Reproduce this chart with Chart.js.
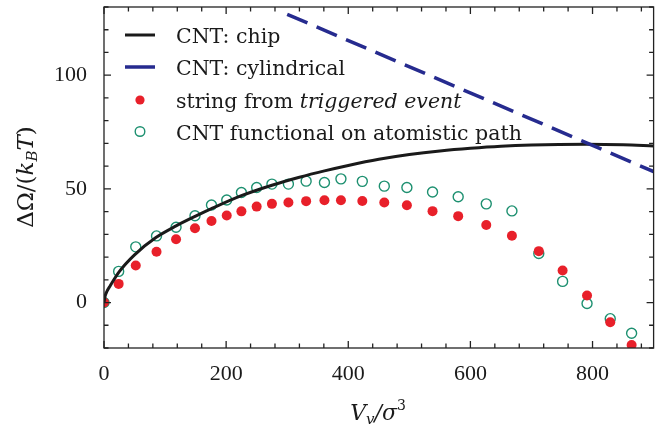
<!DOCTYPE html>
<html>
<head>
<meta charset="utf-8">
<script src="https://cdn.jsdelivr.net/npm/chart.js@4.4.1/dist/chart.umd.min.js"></script>
<style>
  html, body { margin: 0; padding: 0; background: #fff; }
  #c { display: block; }
</style>
</head>
<body>
<canvas id="c" width="660" height="426"></canvas>
<script>
// CNT: chip curve
const chipX = [0, 2, 5, 10, 25, 50, 85, 118, 150, 176, 225, 275, 320, 361, 400, 450, 500, 550, 600, 650, 700, 790, 850, 900];
const chipY = [0, 3, 5, 7.3, 13.6, 21.0, 28.6, 33.7, 38.0, 41.3, 47.0, 51.6, 55.1, 57.9, 60.3, 63.0, 65.1, 66.7, 67.9, 68.8, 69.3, 69.6, 69.4, 68.9];

// CNT: cylindrical (straight dashed line)
const cylX = [300, 900];
const cylY = [126.8, 57.6];

// shared volumes of the path points
const pathX = [0, 24, 52, 86, 118, 149, 176, 201, 225, 250, 275, 302, 331, 361, 388, 423, 459, 496, 538, 580, 626, 668, 712, 751, 791, 829, 864];
const stringY = [0, 8.2, 16.3, 22.3, 27.8, 32.7, 35.9, 38.3, 40.1, 42.2, 43.4, 44, 44.6, 45, 45, 44.7, 44, 42.8, 40.2, 38, 34.1, 29.4, 22.6, 14.1, 3.1, -8.7, -18.7];
const functionalY = [0, 13.7, 24.5, 29.3, 33.1, 38.2, 42.9, 45.1, 48.4, 50.6, 52.1, 52.1, 53.4, 52.8, 54.4, 53.3, 51.2, 50.6, 48.6, 46.5, 43.4, 40.3, 21.6, 9.3, -0.4, -7.1, -13.5];

const xTicks = [0, 200, 400, 600, 800];
const yTicks = [0, 50, 100];

const RED = "#e8202a";
const GREEN = "#1d9070";
const BLUE = "#262b8f";
const INK = "#1a1a1a";

const pts = (xs, ys) => xs.map((x, i) => ({ x: x, y: ys[i] }));

// frame with inward ticks on all four sides, axis titles and legend
const decor = {
  id: "decor",
  afterDraw(chart) {
    const ctx = chart.ctx;
    const a = chart.chartArea;
    const xs = chart.scales.x, ys = chart.scales.y;
    ctx.save();
    ctx.strokeStyle = "#222";
    ctx.lineWidth = 1.3;
    ctx.strokeRect(a.left, a.top, a.right - a.left, a.bottom - a.top);
    ctx.beginPath();
    for (let v = 0; v <= 900; v += 40) {
      const p = xs.getPixelForValue(v);
      const len = v % 200 === 0 ? 7 : 4.5;
      ctx.moveTo(p, a.bottom); ctx.lineTo(p, a.bottom - len);
      ctx.moveTo(p, a.top); ctx.lineTo(p, a.top + len);
    }
    for (let v = -20; v <= 130; v += 10) {
      const p = ys.getPixelForValue(v);
      const len = v % 50 === 0 ? 7 : 4.5;
      ctx.moveTo(a.left, p); ctx.lineTo(a.left + len, p);
      ctx.moveTo(a.right, p); ctx.lineTo(a.right - len, p);
    }
    ctx.stroke();

    // x title: V_v / sigma^3
    ctx.fillStyle = INK;
    ctx.textBaseline = "alphabetic";
    const xparts = [
      ["V", "italic 22px 'DejaVu Serif'", 0],
      ["v", "italic 15px 'DejaVu Serif'", 4],
      ["/σ", "italic 22px 'DejaVu Serif'", 0],
      ["3", "14px 'DejaVu Serif'", -10]
    ];
    drawParts(ctx, xparts, 378, 420);

    // y title: Delta Omega / (k_B T)
    ctx.save();
    ctx.translate(33, 177);
    ctx.rotate(-Math.PI / 2);
    const yparts = [
      ["ΔΩ/(", "23px 'DejaVu Serif'", 0],
      ["k", "italic 23px 'DejaVu Serif'", 0],
      ["B", "italic 15px 'DejaVu Serif'", 4],
      ["T", "italic 23px 'DejaVu Serif'", 0],
      [")", "23px 'DejaVu Serif'", 0]
    ];
    drawParts(ctx, yparts, 0, 0);
    ctx.restore();

    // legend
    const rows = [35, 67, 100, 131.5];
    ctx.lineWidth = 3;
    ctx.strokeStyle = INK;
    ctx.beginPath(); ctx.moveTo(125, rows[0]); ctx.lineTo(155, rows[0]); ctx.stroke();
    ctx.strokeStyle = BLUE;
    ctx.lineWidth = 3.5;
    ctx.beginPath(); ctx.moveTo(125, rows[1]); ctx.lineTo(155, rows[1]); ctx.stroke();
    ctx.fillStyle = RED;
    ctx.beginPath(); ctx.arc(140, rows[2], 4.6, 0, Math.PI * 2); ctx.fill();
    ctx.strokeStyle = GREEN;
    ctx.lineWidth = 1.4;
    ctx.beginPath(); ctx.arc(140, rows[3], 4.8, 0, Math.PI * 2); ctx.stroke();

    ctx.fillStyle = INK;
    const f = "20.5px 'DejaVu Serif'";
    const fi = "italic 20.5px 'DejaVu Serif'";
    const tx = 176;
    drawParts(ctx, [["CNT: chip", f, 0]], tx, rows[0] + 8, "left");
    drawParts(ctx, [["CNT: cylindrical", f, 0]], tx, rows[1] + 8, "left");
    drawParts(ctx, [["string from ", f, 0], ["triggered event", fi, 0]], tx, rows[2] + 8, "left");
    drawParts(ctx, [["CNT functional on atomistic path", f, 0]], tx, rows[3] + 8, "left");
    ctx.restore();
  }
};

function drawParts(ctx, parts, x, y, align) {
  let total = 0;
  parts.forEach(p => { ctx.font = p[1]; total += ctx.measureText(p[0]).width; });
  let cx = align === "left" ? x : x - total / 2;
  ctx.textAlign = "left";
  parts.forEach(p => {
    ctx.font = p[1];
    ctx.fillText(p[0], cx, y + p[2]);
    cx += ctx.measureText(p[0]).width;
  });
}

new Chart(document.getElementById("c"), {
  type: "scatter",
  data: {
    datasets: [
      {
        label: "CNT: cylindrical",
        type: "line",
        data: pts(cylX, cylY),
        borderColor: BLUE,
        borderWidth: 3.5,
        borderDash: [22, 10],
        pointRadius: 0,
        fill: false,
        order: 0
      },
      {
        label: "CNT: chip",
        type: "line",
        data: pts(chipX, chipY),
        borderColor: INK,
        borderWidth: 3,
        pointRadius: 0,
        cubicInterpolationMode: "monotone",
        fill: false,
        order: 1
      },
      {
        label: "string from triggered event",
        data: pts(pathX, stringY),
        backgroundColor: RED,
        borderWidth: 0,
        pointRadius: 5,
        order: 2
      },
      {
        label: "CNT functional on atomistic path",
        data: pts(pathX, functionalY),
        backgroundColor: "rgba(0,0,0,0)",
        borderColor: GREEN,
        borderWidth: 1.4,
        pointRadius: 5,
        order: 3
      }
    ]
  },
  options: {
    responsive: false,
    animation: false,
    devicePixelRatio: 1,
    layout: { padding: { top: 7, right: 4, left: 0, bottom: 0 } },
    plugins: {
      legend: { display: false },
      tooltip: { enabled: false }
    },
    scales: {
      x: {
        type: "linear",
        min: 0,
        max: 900,
        grid: { display: false, drawTicks: false },
        border: { display: false },
        afterBuildTicks: s => { s.ticks = xTicks.map(v => ({ value: v })); },
        afterFit: s => { s.height = 78; s.paddingLeft = 0; s.paddingRight = 0; },
        ticks: {
          padding: 13,
          color: INK,
          font: { family: "'Liberation Serif'", size: 22 }
        }
      },
      y: {
        type: "linear",
        min: -20,
        max: 130,
        grid: { display: false, drawTicks: false },
        border: { display: false },
        afterBuildTicks: s => { s.ticks = yTicks.map(v => ({ value: v })); },
        afterFit: s => { s.width = 104; s.paddingTop = 0; s.paddingBottom = 0; },
        ticks: {
          padding: 17,
          color: INK,
          font: { family: "'Liberation Serif'", size: 22 }
        }
      }
    }
  },
  plugins: [decor]
});
</script>
</body>
</html>
